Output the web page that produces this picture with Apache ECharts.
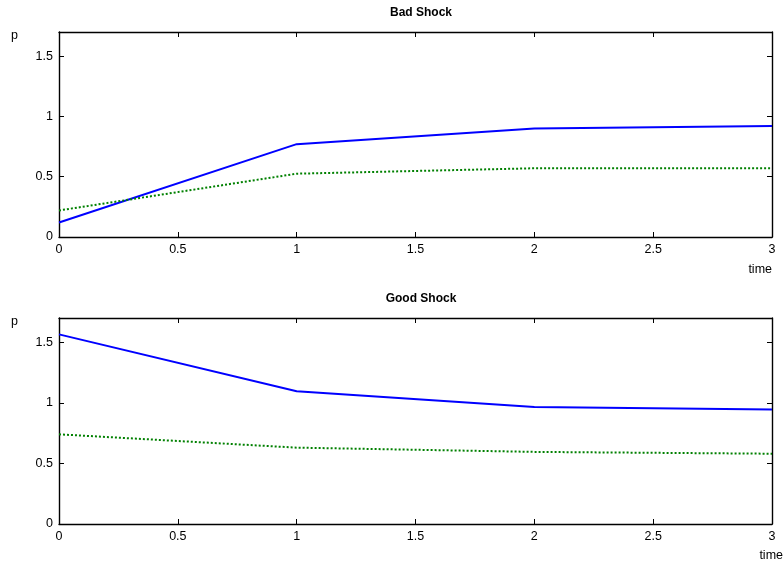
<!DOCTYPE html>
<html><head><meta charset="utf-8">
<script src="https://cdn.jsdelivr.net/npm/echarts@6/dist/echarts.min.js"></script>
<style>html,body{margin:0;padding:0;background:#fff}#c{width:783px;height:571px}</style>
</head><body><div id="c"></div>
<script>
const time = [0, 1, 2, 3];
const badBlue = [0.12, 0.77, 0.90, 0.92];
const badGreen = [0.22, 0.525, 0.57, 0.57];
const goodBlue = [1.565, 1.095, 0.965, 0.945];
const goodGreen = [0.74, 0.63, 0.595, 0.58];
const titles = ['Bad Shock', 'Good Shock'];

const FONT = 'Liberation Sans, Arial, sans-serif';
const chart = echarts.init(document.getElementById('c'));
const grids = [
  {left: 59, right: 11, top: 32, height: 205},
  {left: 59, right: 11, top: 318, height: 206}
];
const xAxes = [], yAxes = [], series = [];
const axisLine = {show: true, onZero: false, lineStyle: {color: '#000', width: 1.4}};
const tick = {show: true, inside: true, length: 5, lineStyle: {color: '#000', width: 1}};
grids.forEach((g, i) => {
  xAxes.push({type: 'value', gridIndex: i, min: 0, max: 3, interval: 0.5, position: 'bottom',
    axisLine, axisTick: tick, splitLine: {show: false},
    axisLabel: {color: '#000', fontFamily: FONT, fontSize: 12.5, margin: 6}});
  xAxes.push({type: 'value', gridIndex: i, min: 0, max: 3, interval: 0.5, position: 'top',
    axisLine, axisTick: tick, splitLine: {show: false}, axisLabel: {show: false}});
  yAxes.push({type: 'value', gridIndex: i, min: 0, max: 1.7, interval: 0.5, position: 'left',
    axisLine, axisTick: tick, splitLine: {show: false},
    axisLabel: {color: '#000', fontFamily: FONT, fontSize: 12.5, margin: 6, showMaxLabel: false,
      formatter: v => (Math.abs(v * 2 - Math.round(v * 2)) < 1e-6 ? String(v) : '')}});
  yAxes.push({type: 'value', gridIndex: i, min: 0, max: 1.7, interval: 0.5, position: 'right',
    axisLine, axisTick: tick, splitLine: {show: false}, axisLabel: {show: false}});
});
const sets = [[badBlue, badGreen], [goodBlue, goodGreen]];
sets.forEach((s, i) => {
  series.push({type: 'line', xAxisIndex: i * 2, yAxisIndex: i * 2, symbol: 'none', animation: false,
    data: time.map((t, k) => [t, s[0][k]]), lineStyle: {color: '#0000ff', width: 2}});
  series.push({type: 'line', xAxisIndex: i * 2, yAxisIndex: i * 2, symbol: 'none', animation: false,
    data: time.map((t, k) => [t, s[1][k]]), lineStyle: {color: '#008000', width: 2, type: [2, 2]}});
});
chart.setOption({
  animation: false,
  grid: grids,
  xAxis: xAxes,
  yAxis: yAxes,
  series,
  title: titles.map((t, i) => ({text: t, left: 416, top: i === 0 ? 2 : 288, textAlign: 'center',
    textStyle: {fontFamily: FONT, fontSize: 12, fontWeight: 'bold', color: '#000'}})),
  graphic: [
    {type: 'text', left: 11, top: 29, style: {text: 'p', font: '12.5px ' + FONT, fill: '#000'}},
    {type: 'text', left: 11, top: 315, style: {text: 'p', font: '12.5px ' + FONT, fill: '#000'}},
    {type: 'text', right: 11, top: 263, style: {text: 'time', font: '12.5px ' + FONT, fill: '#000'}},
    {type: 'text', right: 0, top: 549, style: {text: 'time', font: '12.5px ' + FONT, fill: '#000'}}
  ]
});
</script></body></html>
